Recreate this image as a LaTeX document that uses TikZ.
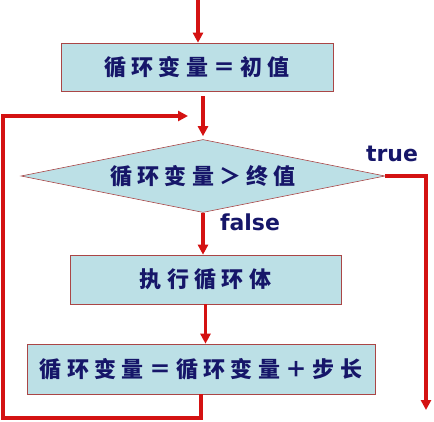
\documentclass[tikz,border=0pt]{standalone}
\usepackage{fontspec}
\usetikzlibrary{shapes.geometric, arrows.meta}
\newfontfamily\cjk[LetterSpace=24]{Noto Sans CJK SC Black}
\newfontfamily\lab{DejaVu Sans}[BoldFont={DejaVu Sans Bold}]
\definecolor{boxfill}{RGB}{188,224,230}
\definecolor{boxline}{RGB}{170,70,70}
\definecolor{inkblue}{RGB}{22,22,105}
\definecolor{flowred}{RGB}{212,18,18}

\begin{document}
\begin{tikzpicture}[x=1pt, y=-1pt,
        blk/.style={draw=boxline, line width=0.6pt, fill=boxfill, inner sep=0pt,
            text=inkblue, font=\cjk\fontsize{22}{22}\selectfont},
        cond/.style={blk, diamond, aspect=5},
        flow/.style={draw=flowred, line width=3.2pt, -{Triangle[length=10pt, width=10pt]}},
        tag/.style={text=inkblue, font=\lab\bfseries\fontsize{22}{22}\selectfont}]
    \useasboundingbox (0,0) rectangle (434,421);
    % boxes
    \node[blk, minimum width=272pt, minimum height=48pt] (init) at (197,67) {循环变量＝初值};
    \node[cond, minimum width=364pt, minimum height=73pt] (test) at (203,176) {循环变量＞终值};
    \node[blk, minimum width=271pt, minimum height=49pt] (body) at (205.5,279.5) {执行循环体};
    \node[blk, minimum width=348pt, minimum height=50pt] (incr) at (201,369) {循环变量＝循环变量＋步长};
    % labels
    \node[tag] (yes) at (392,154) {true};
    \node[tag] (no) at (250,222) {false};
    % free ends
    \coordinate (start) at (198,0);
    \coordinate (back) at (188,116);
    \coordinate (loopL) at (3,418);
    \coordinate (exit) at (426,410);
    % connectors
    \draw[flow] (start) -- (start |- init.north);
    \draw[flow, shorten <=5pt, shorten >=3pt] (init.south -| test.north) -- (test.north);
    \draw[flow] (test.south) -- (test.south |- body.north);
    \draw[flow] (body.south) -- (body.south |- incr.north);
    \draw[flow] (incr.south) |- (loopL) |- (back);
    \draw[flow] (test.east) -| (exit);
\end{tikzpicture}
\end{document}
